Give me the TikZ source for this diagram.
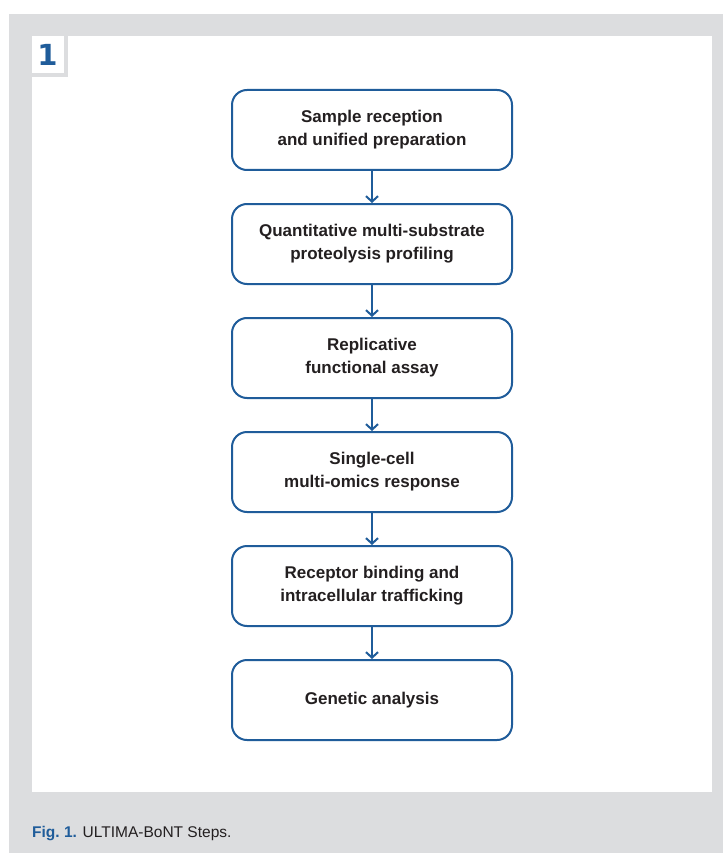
\documentclass[tikz,border=0pt]{standalone}
\usepackage{fontspec}
\setmainfont{Liberation Sans}
\newfontfamily\numfont{DejaVu Sans}
\usetikzlibrary{arrows.meta}
\definecolor{panelgrey}{HTML}{DCDDDF}
\definecolor{stepblue}{HTML}{1F5C9A}
\definecolor{textdark}{HTML}{231F20}
\tikzset{
  stepbox/.style={draw=stepblue, line width=2pt, rounded corners=15pt,
    minimum width=280pt, minimum height=80pt, inner sep=0pt, text=textdark,
    font=\fontsize{17}{23}\selectfont\bfseries, align=center},
  flowarrow/.style={stepblue, line width=2pt,
    -{Straight Barb[length=5.5pt,width=12pt]}},
}
\begin{document}
\begin{tikzpicture}[x=1pt,y=-1pt]
\useasboundingbox (0,0) rectangle (723,853);
\fill[white] (0,0) rectangle (723,853);
\fill[panelgrey] (9,14) rectangle (723,853);
\fill[white] (31.7,36.5) rectangle (711.7,792.3);
\fill[panelgrey] (31.7,72.7) rectangle (68.3,76.7);
\fill[panelgrey] (64.3,36.5) rectangle (68.3,76.7);
\node[anchor=base, inner sep=0pt, text=stepblue, font=\numfont\bfseries\fontsize{29}{29}\selectfont] (num) at (47.5,66) {1};

\node[stepbox] (s1) at (372,130) {Sample reception\\and unified preparation};
\node[stepbox] (s2) at (372,244) {Quantitative multi-substrate\\proteolysis profiling};
\node[stepbox] (s3) at (372,358) {Replicative\\functional assay};
\node[stepbox] (s4) at (372,472) {Single-cell\\multi-omics response};
\node[stepbox] (s5) at (372,586) {Receptor binding and\\intracellular trafficking};
\node[stepbox] (s6) at (372,700) {Genetic analysis};

\draw[flowarrow] (s1.south) -- (s2.north);
\draw[flowarrow] (s2.south) -- (s3.north);
\draw[flowarrow] (s3.south) -- (s4.north);
\draw[flowarrow] (s4.south) -- (s5.north);
\draw[flowarrow] (s5.south) -- (s6.north);

\node[anchor=base west, inner sep=0pt, text=textdark, font=\fontsize{15.5}{18}\selectfont] (cap) at (32,837.3) {{\color{stepblue}\bfseries Fig.~1.} ULTIMA-BoNT Steps.};
\end{tikzpicture}
\end{document}
